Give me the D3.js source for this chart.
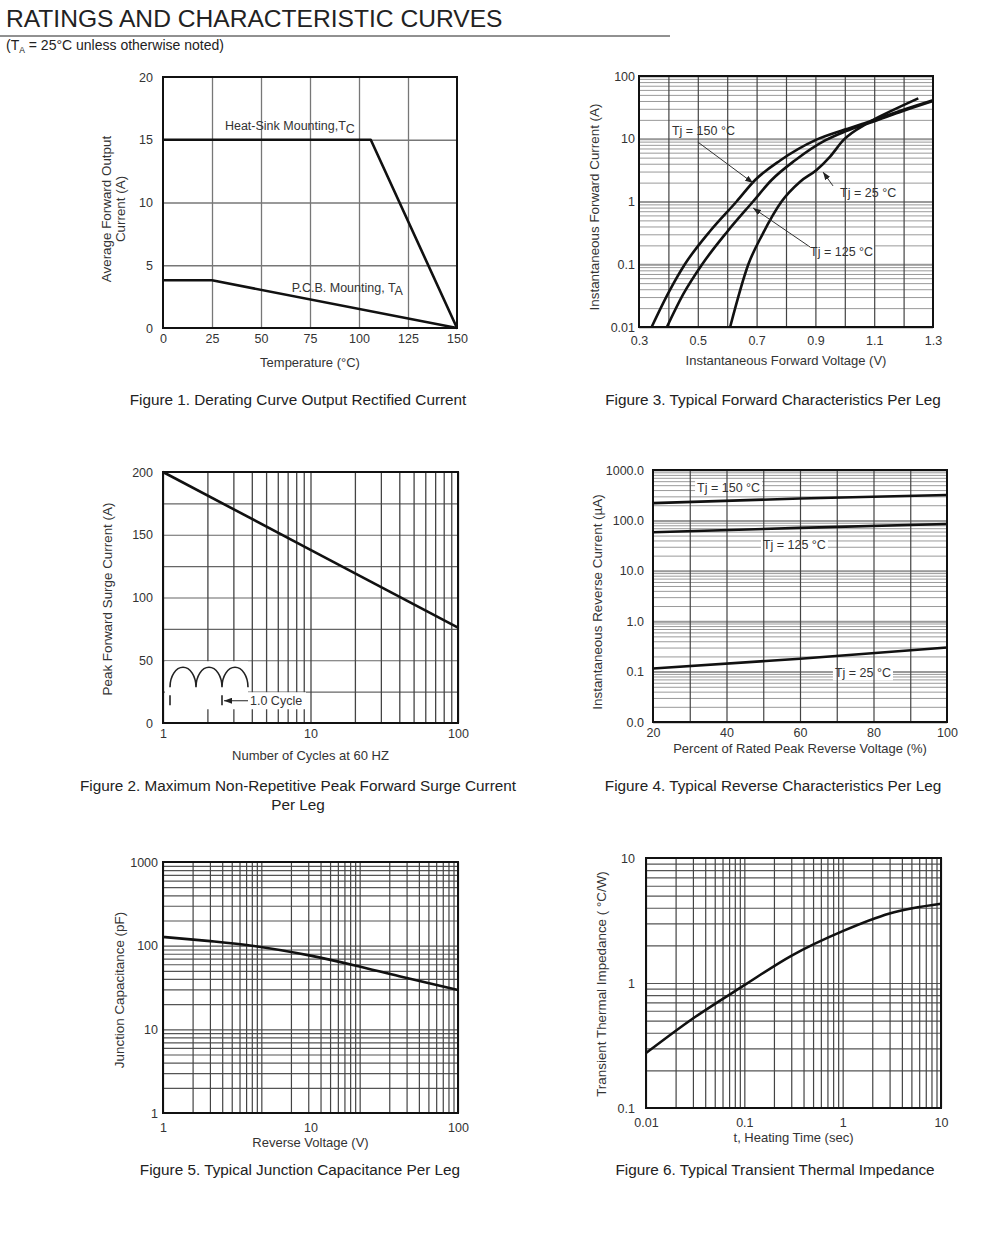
<!DOCTYPE html>
<html lang="en">
<head>
<meta charset="UTF-8">
<title>ratings-and-characteristic-curves</title>
<script src="https://cdn.jsdelivr.net/npm/d3@7"></script>
<style>
  body { margin: 0; background: #fff; }
</style>
</head>
<body>
<script>
const FONT = '"Liberation Sans", Arial, Helvetica, sans-serif';

// ---- Figure 1: derating curve ----
const f1TempTicks = [0, 25, 50, 75, 100, 125, 150];
const f1AmpTicks = [0, 5, 10, 15, 20];
const heatSinkTemp = [0, 106, 150];
const heatSinkAmps = [15, 15, 0];
const pcbTemp = [0, 25, 150];
const pcbAmps = [3.8, 3.8, 0];

// ---- Figure 2: surge current ----
const f2CycleTicks = [1, 10, 100];
const f2AmpTicks = [0, 50, 100, 150, 200];
const f2AmpGrid = [25, 50, 75, 100, 125, 150, 175];
const surgeCycles = [1, 10, 100];
const surgeAmps = [200, 138, 76];

// ---- Figure 3: forward characteristics ----
const f3VoltTicks = [0.3, 0.5, 0.7, 0.9, 1.1, 1.3];
const f3VoltGrid = [0.4, 0.5, 0.6, 0.7, 0.8, 0.9, 1.0, 1.1, 1.2];
const f3AmpTicks = [0.01, 0.1, 1, 10, 100];
const f3AmpLabels = ['0.01', '0.1', '1', '10', '100'];
const fwd150Volt = [0.343, 0.40, 0.456, 0.54, 0.632, 0.695, 0.78, 0.90, 1.0, 1.1, 1.2, 1.3];
const fwd150Amp  = [0.01, 0.035, 0.1, 0.33, 1, 2.2, 4.5, 9.5, 14, 20, 29, 41];
const fwd125Volt = [0.395, 0.45, 0.515, 0.60, 0.688, 0.751, 0.83, 0.935, 1.0, 1.1, 1.2, 1.3];
const fwd125Amp  = [0.01, 0.033, 0.1, 0.33, 1, 2.2, 4.5, 9.5, 13, 19, 28, 40];
const fwd25Volt  = [0.61, 0.672, 0.72, 0.785, 0.848, 0.904, 0.95, 0.995, 1.08, 1.16, 1.25];
const fwd25Amp   = [0.01, 0.1, 0.3, 1, 2.07, 3.18, 5.2, 9.5, 18, 28, 44];

// ---- Figure 4: reverse characteristics ----
const f4PctTicks = [20, 40, 60, 80, 100];
const f4PctGrid = [30, 40, 50, 60, 70, 80, 90];
const f4CurTicks = [0.01, 0.1, 1, 10, 100, 1000];
const f4CurLabels = ['0.0', '0.1', '1.0', '10.0', '100.0', '1000.0'];
const revPct = [20, 60, 100];
const rev150 = [220, 272, 320];
const rev125 = [58, 71, 85];
const rev25 = [0.115, 0.18, 0.30];

// ---- Figure 5: junction capacitance ----
const f5VoltTicks = [1, 10, 100];
const f5CapTicks = [1, 10, 100, 1000];
const capVolt = [1, 2, 4, 10, 20, 40, 100];
const capPf = [127, 114, 100, 76, 58, 43, 29.5];

// ---- Figure 6: transient thermal impedance ----
const f6TimeTicks = [0.01, 0.1, 1, 10];
const f6TimeLabels = ['0.01', '0.1', '1', '10'];
const f6ZTicks = [0.1, 1, 10];
const f6ZLabels = ['0.1', '1', '10'];
const heatTime = [0.01, 0.03, 0.1, 0.3, 1, 3, 10];
const thermalZ = [0.275, 0.52, 0.96, 1.65, 2.6, 3.6, 4.3];

const svg = d3.select('body').append('svg')
  .attr('width', 1000)
  .attr('height', 1250)
  .style('font-family', FONT);

svg.append('defs').append('marker')
  .attr('id', 'arrow')
  .attr('viewBox', '0 0 8 6')
  .attr('refX', 8).attr('refY', 3)
  .attr('markerWidth', 8).attr('markerHeight', 6)
  .attr('markerUnits', 'userSpaceOnUse')
  .attr('orient', 'auto')
  .append('path').attr('d', 'M0,0L8,3L0,6Z').attr('fill', '#222');

// header
svg.append('text').attr('x', 6).attr('y', 27)
  .style('font-size', '24.6px').attr('fill', '#222')
  .text('RATINGS AND CHARACTERISTIC CURVES');
svg.append('line').attr('x1', 0).attr('x2', 670).attr('y1', 36).attr('y2', 36)
  .attr('stroke', '#222').attr('stroke-width', 1);
let sub = svg.append('text').attr('x', 6).attr('y', 50).style('font-size', '14px').attr('fill', '#222');
sub.append('tspan').text('(T');
sub.append('tspan').attr('dy', 3).style('font-size', '8.5px').text('A');
sub.append('tspan').attr('dy', -3).text(' = 25°C unless otherwise noted)');

function layers(box) {
  const g = svg.append('g');
  return {
    box: box,
    h: g.append('g'),
    bg: g.append('g'),
    v: g.append('g'),
    marks: g.append('g'),
    text: g.append('g')
  };
}

function vGrid(L, x, vals, color, w) {
  const b = L.box;
  L.v.append('g')
    .attr('transform', 'translate(0,' + b.y1 + ')')
    .call(d3.axisBottom(x).tickValues(vals).tickSize(-(b.y1 - b.y0)).tickFormat(''))
    .call(s => s.select('.domain').remove())
    .selectAll('line').attr('stroke', color).attr('stroke-width', w);
}

function hGrid(L, y, vals, color, w) {
  const b = L.box;
  L.h.append('g')
    .attr('transform', 'translate(' + b.x0 + ',0)')
    .call(d3.axisLeft(y).tickValues(vals).tickSize(-(b.x1 - b.x0)).tickFormat(''))
    .call(s => s.select('.domain').remove())
    .selectAll('line').attr('stroke', color).attr('stroke-width', w);
}

function styleTicks(sel) {
  sel.select('.domain').remove();
  sel.selectAll('text')
    .attr('fill', '#333')
    .style('font-size', '12.5px')
    .style('font-family', FONT);
}

function xLabels(L, x, vals, labels, pad) {
  L.text.append('g')
    .attr('transform', 'translate(0,' + L.box.y1 + ')')
    .call(d3.axisBottom(x).tickValues(vals).tickSize(0).tickPadding(pad)
      .tickFormat((d, i) => labels ? labels[i] : d))
    .call(styleTicks);
}

function yLabels(L, y, vals, labels, pad) {
  L.text.append('g')
    .attr('transform', 'translate(' + L.box.x0 + ',0)')
    .call(d3.axisLeft(y).tickValues(vals).tickSize(0).tickPadding(pad)
      .tickFormat((d, i) => labels ? labels[i] : d))
    .call(styleTicks);
}

function frame(L) {
  const b = L.box;
  L.marks.append('rect')
    .attr('x', b.x0).attr('y', b.y0)
    .attr('width', b.x1 - b.x0).attr('height', b.y1 - b.y0)
    .attr('fill', 'none').attr('stroke', '#111').attr('stroke-width', 2);
}

function curve(L, x, y, xs, ys, smooth) {
  L.marks.append('path')
    .datum(xs.map((v, i) => [v, ys[i]]))
    .attr('d', d3.line()
      .x(d => x(d[0]))
      .y(d => y(d[1]))
      .curve(smooth ? d3.curveMonotoneX : d3.curveLinear))
    .attr('fill', 'none')
    .attr('stroke', '#111')
    .attr('stroke-width', 2.6)
    .attr('stroke-linejoin', 'round');
}

function xTitle(L, text, y) {
  const b = L.box;
  L.text.append('text')
    .attr('x', (b.x0 + b.x1) / 2).attr('y', y)
    .attr('text-anchor', 'middle')
    .style('font-size', '13px').attr('fill', '#333')
    .text(text);
}

function yTitle(L, lines, x, yc) {
  lines.forEach(function (t, i) {
    L.text.append('text')
      .attr('transform', 'translate(' + (x + i * 13.5) + ',' + yc + ') rotate(-90)')
      .attr('text-anchor', 'middle')
      .style('font-size', '13.4px').attr('fill', '#333')
      .text(t);
  });
}

function caption(lines, xc, y) {
  lines.forEach(function (t, i) {
    svg.append('text')
      .attr('x', xc).attr('y', y + i * 19)
      .attr('text-anchor', 'middle')
      .style('font-size', '15.3px').attr('fill', '#222')
      .text(t);
  });
}

// tag text with optional subscript and optional white box behind it
function tag(L, px, py, main, subText, boxed) {
  const t = L.text.append('text')
    .attr('x', px).attr('y', py)
    .style('font-size', '12.5px').attr('fill', '#333');
  t.append('tspan').text(main);
  if (subText) t.append('tspan').attr('dy', 3).text(subText);
  if (boxed) {
    const bb = t.node().getBBox();
    L.bg.append('rect')
      .attr('x', bb.x - 2).attr('y', bb.y)
      .attr('width', bb.width + 4).attr('height', bb.height)
      .attr('fill', '#fff');
  }
}

function arrow(L, x1, y1, x2, y2) {
  L.text.append('line')
    .attr('x1', x1).attr('y1', y1).attr('x2', x2).attr('y2', y2)
    .attr('stroke', '#333').attr('stroke-width', 1)
    .attr('marker-end', 'url(#arrow)');
}

// ================= Figure 1 =================
(function () {
  const L = layers({ x0: 163, x1: 457, y0: 77, y1: 328 });
  const x = d3.scaleLinear().domain([0, 150]).range([L.box.x0, L.box.x1]);
  const y = d3.scaleLinear().domain([0, 20]).range([L.box.y1, L.box.y0]);
  vGrid(L, x, f1TempTicks.slice(1, -1), '#777', 1.3);
  hGrid(L, y, f1AmpTicks.slice(1, -1), '#777', 1.3);
  frame(L);
  curve(L, x, y, heatSinkTemp, heatSinkAmps);
  curve(L, x, y, pcbTemp, pcbAmps);
  yLabels(L, y, f1AmpTicks, null, 10);
  xLabels(L, x, f1TempTicks, null, 6);
  tag(L, x(31.6), y(15.8), 'Heat-Sink Mounting,T', 'C');
  tag(L, x(65.7), y(2.89), 'P.C.B. Mounting, T', 'A');
  xTitle(L, 'Temperature (°C)', 367);
  yTitle(L, ['Average Forward Output', 'Current (A)'], 111, 209);
  caption(['Figure 1. Derating Curve Output Rectified Current'], 298, 405);
})();

// ================= Figure 3 =================
(function () {
  const L = layers({ x0: 639, x1: 933, y0: 76, y1: 327 });
  const x = d3.scaleLinear().domain([0.3, 1.3]).range([L.box.x0, L.box.x1]);
  const y = d3.scaleLog().domain([0.01, 100]).range([L.box.y1, L.box.y0]);
  hGrid(L, y, y.ticks(), '#9a9a9a', 1);
  hGrid(L, y, f3AmpTicks, '#9a9a9a', 2);
  vGrid(L, x, f3VoltGrid, '#444', 1.2);
  frame(L);
  curve(L, x, y, fwd150Volt, fwd150Amp, true);
  curve(L, x, y, fwd125Volt, fwd125Amp, true);
  curve(L, x, y, fwd25Volt, fwd25Amp, true);
  yLabels(L, y, f3AmpTicks, f3AmpLabels, 4);
  xLabels(L, x, f3VoltTicks, null, 9);
  tag(L, x(0.412), y(11.5), 'Tj = 150 °C', null, true);
  tag(L, x(0.984), y(1.18), 'Tj = 25 °C', null, true);
  tag(L, x(0.882), y(0.1356), 'Tj = 125 °C', null, true);
  arrow(L, x(0.50), y(8.87), x(0.688), y(1.97));
  arrow(L, x(0.96), y(1.77), x(0.926), y(2.95));
  arrow(L, x(0.882), y(0.188), x(0.688), y(0.787));
  xTitle(L, 'Instantaneous Forward Voltage (V)', 365);
  yTitle(L, ['Instantaneous Forward Current (A)'], 599, 207);
  caption(['Figure 3. Typical Forward Characteristics Per Leg'], 773, 405);
})();

// ================= Figure 2 =================
(function () {
  const L = layers({ x0: 163, x1: 458, y0: 472, y1: 723 });
  const x = d3.scaleLog().domain([1, 100]).range([L.box.x0, L.box.x1]);
  const y = d3.scaleLinear().domain([0, 200]).range([L.box.y1, L.box.y0]);
  hGrid(L, y, f2AmpGrid, '#666', 1.2);
  vGrid(L, x, x.ticks(), '#444', 1.3);
  frame(L);
  curve(L, x, y, surgeCycles, surgeAmps);
  yLabels(L, y, f2AmpTicks, null, 10);
  xLabels(L, x, f2CycleTicks, null, 6);

  // half-wave inset
  const b = L.box, top = y(50);
  L.marks.append('rect')
    .attr('x', b.x0 + 2).attr('y', top + 1)
    .attr('width', 83).attr('height', 48).attr('fill', '#fff');
  const hx = b.x0 + 7, hw = 26, base = top + 27;
  let d = '';
  for (let i = 0; i < 3; i++) {
    d += 'M' + (hx + i * hw) + ',' + base + 'A13,20 0 0 1 ' + (hx + (i + 1) * hw) + ',' + base;
  }
  L.marks.append('path').attr('d', d)
    .attr('fill', 'none').attr('stroke', '#222').attr('stroke-width', 1.6);
  const m = L.marks.append('g').attr('stroke', '#222').attr('stroke-width', 1.6);
  m.append('line').attr('x1', hx).attr('x2', hx).attr('y1', top + 35).attr('y2', top + 45);
  m.append('line').attr('x1', hx + 2 * hw).attr('x2', hx + 2 * hw).attr('y1', top + 35).attr('y2', top + 45);
  L.marks.append('line')
    .attr('x1', hx + 3 * hw).attr('y1', top + 40.5)
    .attr('x2', hx + 2 * hw + 2).attr('y2', top + 40.5)
    .attr('stroke', '#222').attr('stroke-width', 1)
    .attr('marker-end', 'url(#arrow)');
  L.marks.append('rect')
    .attr('x', hx + 3 * hw).attr('y', top + 32)
    .attr('width', 58).attr('height', 17).attr('fill', '#fff');
  L.text.append('text')
    .attr('x', hx + 3 * hw + 2).attr('y', top + 45)
    .style('font-size', '12.5px').attr('fill', '#333')
    .text('1.0 Cycle');

  xTitle(L, 'Number of Cycles at 60 HZ', 760);
  yTitle(L, ['Peak Forward Surge Current (A)'], 112, 599);
  caption(['Figure 2. Maximum Non-Repetitive Peak Forward Surge Current', 'Per Leg'], 298, 791);
})();

// ================= Figure 4 =================
(function () {
  const L = layers({ x0: 653, x1: 947, y0: 470, y1: 722 });
  const x = d3.scaleLinear().domain([20, 100]).range([L.box.x0, L.box.x1]);
  const y = d3.scaleLog().domain([0.01, 1000]).range([L.box.y1, L.box.y0]);
  hGrid(L, y, y.ticks(), '#9a9a9a', 1);
  hGrid(L, y, f4CurTicks, '#9a9a9a', 2);
  vGrid(L, x, f4PctGrid, '#444', 1.2);
  frame(L);
  curve(L, x, y, revPct, rev150, true);
  curve(L, x, y, revPct, rev125, true);
  curve(L, x, y, revPct, rev25, true);
  yLabels(L, y, f4CurTicks, f4CurLabels, 9);
  xLabels(L, x, f4PctTicks, null, 6);
  tag(L, x(32), y(365), 'Tj = 150 °C', null, true);
  tag(L, x(49.9), y(26.9), 'Tj = 125 °C', null, true);
  tag(L, x(69.5), y(0.0767), 'Tj = 25 °C', null, true);
  xTitle(L, 'Percent of Rated Peak Reverse Voltage (%)', 753);
  yTitle(L, ['Instantaneous Reverse Current (µA)'], 602, 602);
  caption(['Figure 4. Typical Reverse Characteristics Per Leg'], 773, 791);
})();

// ================= Figure 5 =================
(function () {
  const L = layers({ x0: 163, x1: 458, y0: 862, y1: 1113 });
  const x = d3.scaleLog().domain([1, 100]).range([L.box.x0, L.box.x1]);
  const y = d3.scaleLog().domain([1, 1000]).range([L.box.y1, L.box.y0]);
  // printed grid sheet has three decades across while the axis is labelled 1..100
  const xSheet = d3.scaleLog().domain([1, 1000]).range([L.box.x0, L.box.x1]);
  hGrid(L, y, y.ticks(), '#555', 1.2);
  vGrid(L, xSheet, xSheet.ticks(), '#444', 1.2);
  frame(L);
  curve(L, x, y, capVolt, capPf, true);
  yLabels(L, y, f5CapTicks, null, 5);
  xLabels(L, x, f5VoltTicks, null, 10);
  xTitle(L, 'Reverse Voltage (V)', 1147);
  yTitle(L, ['Junction Capacitance (pF)'], 124, 990);
  caption(['Figure 5. Typical Junction Capacitance Per Leg'], 300, 1175);
})();

// ================= Figure 6 =================
(function () {
  const L = layers({ x0: 646, x1: 941, y0: 858, y1: 1108 });
  const x = d3.scaleLog().domain([0.01, 10]).range([L.box.x0, L.box.x1]);
  const y = d3.scaleLog().domain([0.1, 10]).range([L.box.y1, L.box.y0]);
  hGrid(L, y, y.ticks(), '#555', 1.2);
  vGrid(L, x, x.ticks(), '#444', 1.2);
  frame(L);
  curve(L, x, y, heatTime, thermalZ, true);
  yLabels(L, y, f6ZTicks, f6ZLabels, 11);
  xLabels(L, x, f6TimeTicks, f6TimeLabels, 10);
  xTitle(L, 't, Heating Time (sec)', 1142);
  yTitle(L, ['Transient Thermal Impedance ( °C/W)'], 606, 984);
  caption(['Figure 6. Typical Transient Thermal Impedance'], 775, 1175);
})();
</script>
</body>
</html>
